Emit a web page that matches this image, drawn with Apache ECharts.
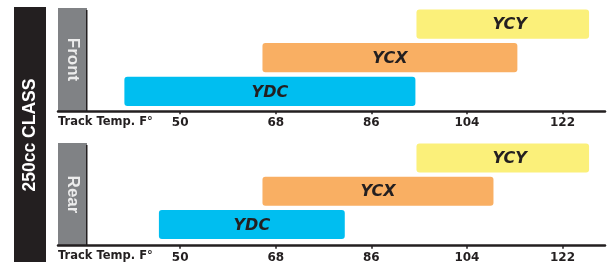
<!DOCTYPE html>
<html>
<head>
<meta charset="utf-8">
<script src="https://cdn.jsdelivr.net/npm/echarts@6/dist/echarts.min.js"></script>
<style>
  html, body { margin: 0; padding: 0; background: #fff; }
  #main { width: 607px; height: 265px; }
</style>
</head>
<body>
<div id="main"></div>
<script>
// compounds, bottom to top
var categories = ['YDC', 'YCX', 'YCY'];
var panels = ['Front', 'Rear'];
// track temperature range (F) for each compound
var frontStart = [39.5, 65.5, 94.5];
var frontEnd = [94.3, 113.5, 127];
var rearStart = [46, 65.5, 94.5];
var rearEnd = [81, 109, 127];
var tickValues = [50, 68, 86, 104, 122];

var barColors = ['#00bef0', '#f9af63', '#fbf07a'];
var labelShift = { YCY: 7 };
var ink = '#231f20';

var dom = document.getElementById('main');
var myChart = echarts.init(dom);

function buildData(starts, ends) {
    var out = [];
    for (var i = 0; i < categories.length; i++) {
        out.push([i, starts[i], ends[i]]);
    }
    return out;
}

function renderItem(params, api) {
    var cat = api.value(0);
    var p0 = api.coord([api.value(1), cat]);
    var p1 = api.coord([api.value(2), cat]);
    var h = api.size([0, 1])[1] * 0.87;
    var name = categories[cat];
    return {
        type: 'group',
        children: [
            {
                type: 'rect',
                shape: { x: p0[0], y: p0[1] - h / 2, width: p1[0] - p0[0], height: h, r: 3 },
                style: { fill: barColors[cat] }
            },
            {
                type: 'text',
                x: (p0[0] + p1[0]) / 2 + (labelShift[name] || 0),
                y: p0[1] + 1,
                style: {
                    text: name,
                    fill: ink,
                    font: 'italic bold 16px "DejaVu Sans"',
                    align: 'center',
                    verticalAlign: 'middle'
                }
            }
        ]
    };
}

function xAxisFor(gridIndex, offset) {
    return {
        type: 'value',
        gridIndex: gridIndex,
        min: 27,
        max: 130,
        offset: offset,
        axisLine: { show: true, lineStyle: { color: ink, width: 2.5 } },
        axisTick: { show: true, customValues: tickValues, length: 3, lineStyle: { color: ink, width: 1.5 } },
        axisLabel: {
            customValues: tickValues,
            margin: 6,
            color: ink,
            fontFamily: 'DejaVu Sans',
            fontWeight: 'bold',
            fontSize: 12
        },
        splitLine: { show: false }
    };
}

function yAxisFor(gridIndex) {
    return {
        type: 'category',
        gridIndex: gridIndex,
        data: categories,
        axisLine: { show: false },
        axisTick: { show: false },
        axisLabel: { show: false }
    };
}

function sideBox(y, h, text) {
    return [
        { type: 'rect', shape: { x: 58, y: y, width: 29, height: h }, style: { fill: '#808285' } },
        { type: 'rect', shape: { x: 86, y: y + 2, width: 1.5, height: h - 2 }, style: { fill: ink } },
        {
            type: 'text', x: 72.5, y: y + h / 2, rotation: -Math.PI / 2,
            style: {
                text: text, fill: '#ececec', font: 'bold 17px "Liberation Sans"',
                align: 'center', verticalAlign: 'middle'
            }
        }
    ];
}

function axisTitle(y) {
    return {
        type: 'text', x: 58, y: y,
        style: {
            text: 'Track Temp. F°', fill: ink, font: 'bold 11.5px "DejaVu Sans"',
            align: 'left', verticalAlign: 'middle'
        }
    };
}

var graphics = [
    { type: 'rect', shape: { x: 14, y: 7, width: 32, height: 255 }, style: { fill: ink } },
    {
        type: 'text', x: 30, y: 135, rotation: Math.PI / 2,
        style: {
            text: '250cc CLASS', fill: '#fff', font: 'bold 17.5px "Liberation Sans"',
            align: 'center', verticalAlign: 'middle'
        }
    }
].concat(sideBox(8, 103, panels[0]), sideBox(143, 103, panels[1]), [axisTitle(122), axisTitle(256.5)]);

option = {
    animation: false,
    grid: [
        { left: 58, width: 547, top: 7.2, height: 101 },
        { left: 58, width: 547, top: 141.4, height: 99.8 }
    ],
    xAxis: [xAxisFor(0, 3), xAxisFor(1, 4.5)],
    yAxis: [yAxisFor(0), yAxisFor(1)],
    graphic: graphics,
    series: [
        {
            type: 'custom',
            xAxisIndex: 0,
            yAxisIndex: 0,
            renderItem: renderItem,
            encode: { x: [1, 2], y: 0 },
            data: buildData(frontStart, frontEnd)
        },
        {
            type: 'custom',
            xAxisIndex: 1,
            yAxisIndex: 1,
            renderItem: renderItem,
            encode: { x: [1, 2], y: 0 },
            data: buildData(rearStart, rearEnd)
        }
    ]
};
myChart.setOption(option, true);
</script>
</body>
</html>
